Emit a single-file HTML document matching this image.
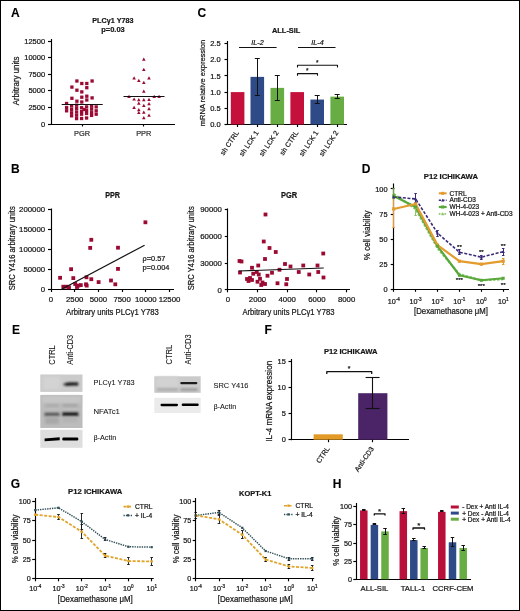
<!DOCTYPE html>
<html><head><meta charset="utf-8"><style>
html,body{margin:0;padding:0;background:#fff;}
body{width:520px;height:611px;overflow:hidden;}
svg{display:block;font-family:"Liberation Sans", sans-serif;will-change:transform;transform:translateZ(0);}
</style></head><body>
<svg width="520" height="611" viewBox="0 0 520 611">
<rect x="0" y="0" width="520" height="611" fill="#fff"/>
<text x="11.0" y="17.0" font-size="12" text-anchor="start" font-weight="bold" fill="#000" stroke="#000" stroke-width="0.1">A</text>
<text x="112.9" y="22.6" font-size="8" text-anchor="middle" font-weight="bold" fill="#161616" textLength="41.2" lengthAdjust="spacingAndGlyphs" stroke="#161616" stroke-width="0.22">PLC&#947;1 Y783</text>
<text x="113" y="31.8" font-size="8" text-anchor="middle" font-weight="bold" fill="#161616" textLength="23.4" lengthAdjust="spacingAndGlyphs" stroke="#161616" stroke-width="0.22">p=0.03</text>
<line x1="51.5" y1="39" x2="51.5" y2="124.5" stroke="#000" stroke-width="1.15" stroke-linecap="butt"/>
<line x1="50.5" y1="124.5" x2="175" y2="124.5" stroke="#000" stroke-width="1.15" stroke-linecap="butt"/>
<line x1="48" y1="124.5" x2="51" y2="124.5" stroke="#000" stroke-width="1.15" stroke-linecap="butt"/>
<text x="45.1" y="126.6" font-size="7.5" text-anchor="end" fill="#161616" stroke="#161616" stroke-width="0.22">0</text>
<line x1="48" y1="107.5" x2="51" y2="107.5" stroke="#000" stroke-width="1.15" stroke-linecap="butt"/>
<text x="45.1" y="110.0" font-size="7.5" text-anchor="end" fill="#161616" stroke="#161616" stroke-width="0.22">2500</text>
<line x1="48" y1="90.5" x2="51" y2="90.5" stroke="#000" stroke-width="1.15" stroke-linecap="butt"/>
<text x="45.1" y="93.39999999999999" font-size="7.5" text-anchor="end" fill="#161616" stroke="#161616" stroke-width="0.22">5000</text>
<line x1="48" y1="74.5" x2="51" y2="74.5" stroke="#000" stroke-width="1.15" stroke-linecap="butt"/>
<text x="45.1" y="76.79999999999998" font-size="7.5" text-anchor="end" fill="#161616" stroke="#161616" stroke-width="0.22">7500</text>
<line x1="48" y1="57.5" x2="51" y2="57.5" stroke="#000" stroke-width="1.15" stroke-linecap="butt"/>
<text x="45.1" y="60.199999999999996" font-size="7.5" text-anchor="end" fill="#161616" stroke="#161616" stroke-width="0.22">10000</text>
<line x1="48" y1="41.5" x2="51" y2="41.5" stroke="#000" stroke-width="1.15" stroke-linecap="butt"/>
<text x="45.1" y="43.6" font-size="7.5" text-anchor="end" fill="#161616" stroke="#161616" stroke-width="0.22">12500</text>
<line x1="82.5" y1="124" x2="82.5" y2="126.5" stroke="#000" stroke-width="1.15" stroke-linecap="butt"/>
<text x="82" y="136.2" font-size="7.4" text-anchor="middle" fill="#333" stroke="#333" stroke-width="0.22">PGR</text>
<line x1="143.5" y1="124" x2="143.5" y2="126.5" stroke="#000" stroke-width="1.15" stroke-linecap="butt"/>
<text x="143.8" y="136.2" font-size="7.4" text-anchor="middle" fill="#333" stroke="#333" stroke-width="0.22">PPR</text>
<text x="18.6" y="81" font-size="8.6" text-anchor="middle" fill="#161616" transform="rotate(-90 18.6 81)" textLength="48.7" lengthAdjust="spacingAndGlyphs" stroke="#161616" stroke-width="0.22">Arbitrary units</text>
<rect x="75.25" y="79.35" width="3.3" height="3.3" fill="#9a0a32"/>
<rect x="90.44999999999999" y="79.35" width="3.3" height="3.3" fill="#9a0a32"/>
<rect x="80.14999999999999" y="81.85" width="3.3" height="3.3" fill="#9a0a32"/>
<rect x="85.14999999999999" y="81.85" width="3.3" height="3.3" fill="#9a0a32"/>
<rect x="70.25" y="85.44999999999999" width="3.3" height="3.3" fill="#9a0a32"/>
<rect x="85.14999999999999" y="86.05" width="3.3" height="3.3" fill="#9a0a32"/>
<rect x="75.25" y="88.55" width="3.3" height="3.3" fill="#9a0a32"/>
<rect x="80.14999999999999" y="90.25" width="3.3" height="3.3" fill="#9a0a32"/>
<rect x="70.25" y="96.64999999999999" width="3.3" height="3.3" fill="#9a0a32"/>
<rect x="80.14999999999999" y="95.55" width="3.3" height="3.3" fill="#9a0a32"/>
<rect x="85.14999999999999" y="94.55" width="3.3" height="3.3" fill="#9a0a32"/>
<rect x="90.44999999999999" y="96.25" width="3.3" height="3.3" fill="#9a0a32"/>
<rect x="75.25" y="99.55" width="3.3" height="3.3" fill="#9a0a32"/>
<rect x="80.14999999999999" y="100.35" width="3.3" height="3.3" fill="#9a0a32"/>
<rect x="85.14999999999999" y="98.35" width="3.3" height="3.3" fill="#9a0a32"/>
<rect x="64.94999999999999" y="101.85" width="3.3" height="3.3" fill="#9a0a32"/>
<rect x="64.94999999999999" y="106.05" width="3.3" height="3.3" fill="#9a0a32"/>
<rect x="64.94999999999999" y="109.14999999999999" width="3.3" height="3.3" fill="#9a0a32"/>
<rect x="69.94999999999999" y="104.35" width="3.3" height="3.3" fill="#9a0a32"/>
<rect x="69.94999999999999" y="107.75" width="3.3" height="3.3" fill="#9a0a32"/>
<rect x="69.94999999999999" y="111.14999999999999" width="3.3" height="3.3" fill="#9a0a32"/>
<rect x="69.94999999999999" y="114.14999999999999" width="3.3" height="3.3" fill="#9a0a32"/>
<rect x="74.94999999999999" y="103.55" width="3.3" height="3.3" fill="#9a0a32"/>
<rect x="74.94999999999999" y="106.94999999999999" width="3.3" height="3.3" fill="#9a0a32"/>
<rect x="74.94999999999999" y="110.35" width="3.3" height="3.3" fill="#9a0a32"/>
<rect x="74.94999999999999" y="113.55" width="3.3" height="3.3" fill="#9a0a32"/>
<rect x="74.94999999999999" y="116.94999999999999" width="3.3" height="3.3" fill="#9a0a32"/>
<rect x="79.94999999999999" y="106.05" width="3.3" height="3.3" fill="#9a0a32"/>
<rect x="79.94999999999999" y="109.85" width="3.3" height="3.3" fill="#9a0a32"/>
<rect x="79.94999999999999" y="112.55" width="3.3" height="3.3" fill="#9a0a32"/>
<rect x="79.94999999999999" y="116.85" width="3.3" height="3.3" fill="#9a0a32"/>
<rect x="84.94999999999999" y="105.25" width="3.3" height="3.3" fill="#9a0a32"/>
<rect x="84.94999999999999" y="108.75" width="3.3" height="3.3" fill="#9a0a32"/>
<rect x="84.94999999999999" y="111.85" width="3.3" height="3.3" fill="#9a0a32"/>
<rect x="84.94999999999999" y="116.35" width="3.3" height="3.3" fill="#9a0a32"/>
<rect x="89.94999999999999" y="104.55" width="3.3" height="3.3" fill="#9a0a32"/>
<rect x="89.94999999999999" y="107.55" width="3.3" height="3.3" fill="#9a0a32"/>
<rect x="89.94999999999999" y="111.05" width="3.3" height="3.3" fill="#9a0a32"/>
<rect x="89.94999999999999" y="113.75" width="3.3" height="3.3" fill="#9a0a32"/>
<rect x="94.55" y="105.25" width="3.3" height="3.3" fill="#9a0a32"/>
<rect x="94.55" y="109.14999999999999" width="3.3" height="3.3" fill="#9a0a32"/>
<rect x="94.55" y="112.55" width="3.3" height="3.3" fill="#9a0a32"/>
<rect x="82.44999999999999" y="107.85" width="3.3" height="3.3" fill="#9a0a32"/>
<line x1="61.7" y1="104.5" x2="102.7" y2="104.5" stroke="#111" stroke-width="1.2" stroke-linecap="butt"/>
<path d="M142.00,60.70 L145.60,60.70 L143.80,57.50 Z" fill="#9a0a32"/>
<path d="M142.00,71.00 L145.60,71.00 L143.80,67.80 Z" fill="#9a0a32"/>
<path d="M132.30,79.50 L135.90,79.50 L134.10,76.30 Z" fill="#9a0a32"/>
<path d="M147.20,79.50 L150.80,79.50 L149.00,76.30 Z" fill="#9a0a32"/>
<path d="M137.00,81.90 L140.60,81.90 L138.80,78.70 Z" fill="#9a0a32"/>
<path d="M142.00,83.90 L145.60,83.90 L143.80,80.70 Z" fill="#9a0a32"/>
<path d="M142.00,92.70 L145.60,92.70 L143.80,89.50 Z" fill="#9a0a32"/>
<path d="M127.20,97.90 L130.80,97.90 L129.00,94.70 Z" fill="#9a0a32"/>
<path d="M152.40,97.90 L156.00,97.90 L154.20,94.70 Z" fill="#9a0a32"/>
<path d="M157.30,97.90 L160.90,97.90 L159.10,94.70 Z" fill="#9a0a32"/>
<path d="M132.30,100.60 L135.90,100.60 L134.10,97.40 Z" fill="#9a0a32"/>
<path d="M137.00,101.20 L140.60,101.20 L138.80,98.00 Z" fill="#9a0a32"/>
<path d="M142.00,101.20 L145.60,101.20 L143.80,98.00 Z" fill="#9a0a32"/>
<path d="M147.20,100.90 L150.80,100.90 L149.00,97.70 Z" fill="#9a0a32"/>
<path d="M137.00,104.70 L140.60,104.70 L138.80,101.50 Z" fill="#9a0a32"/>
<path d="M147.20,105.30 L150.80,105.30 L149.00,102.10 Z" fill="#9a0a32"/>
<path d="M142.00,106.90 L145.60,106.90 L143.80,103.70 Z" fill="#9a0a32"/>
<path d="M132.30,108.90 L135.90,108.90 L134.10,105.70 Z" fill="#9a0a32"/>
<path d="M147.20,110.20 L150.80,110.20 L149.00,107.00 Z" fill="#9a0a32"/>
<path d="M137.00,111.30 L140.60,111.30 L138.80,108.10 Z" fill="#9a0a32"/>
<path d="M137.00,114.10 L140.60,114.10 L138.80,110.90 Z" fill="#9a0a32"/>
<path d="M142.00,113.80 L145.60,113.80 L143.80,110.60 Z" fill="#9a0a32"/>
<path d="M147.20,116.80 L150.80,116.80 L149.00,113.60 Z" fill="#9a0a32"/>
<path d="M142.00,119.20 L145.60,119.20 L143.80,116.00 Z" fill="#9a0a32"/>
<line x1="123.5" y1="96.5" x2="164.5" y2="96.5" stroke="#111" stroke-width="1.2" stroke-linecap="butt"/>
<text x="197.4" y="17.2" font-size="12" text-anchor="start" font-weight="bold" fill="#000" stroke="#000" stroke-width="0.1">C</text>
<text x="286.2" y="33.2" font-size="8" text-anchor="middle" font-weight="bold" fill="#161616" textLength="28.4" lengthAdjust="spacingAndGlyphs" stroke="#161616" stroke-width="0.22">ALL-SIL</text>
<line x1="227.5" y1="41" x2="227.5" y2="125.0" stroke="#000" stroke-width="1.15" stroke-linecap="butt"/>
<line x1="227.0" y1="124.5" x2="347" y2="124.5" stroke="#000" stroke-width="1.15" stroke-linecap="butt"/>
<line x1="224.5" y1="124.5" x2="227.5" y2="124.5" stroke="#000" stroke-width="1.15" stroke-linecap="butt"/>
<text x="220.6" y="127.1" font-size="7.5" text-anchor="end" fill="#161616" stroke="#161616" stroke-width="0.22">0.0</text>
<line x1="224.5" y1="108.5" x2="227.5" y2="108.5" stroke="#000" stroke-width="1.15" stroke-linecap="butt"/>
<text x="220.6" y="110.89999999999999" font-size="7.5" text-anchor="end" fill="#161616" stroke="#161616" stroke-width="0.22">0.5</text>
<line x1="224.5" y1="92.5" x2="227.5" y2="92.5" stroke="#000" stroke-width="1.15" stroke-linecap="butt"/>
<text x="220.6" y="94.69999999999999" font-size="7.5" text-anchor="end" fill="#161616" stroke="#161616" stroke-width="0.22">1.0</text>
<line x1="224.5" y1="75.5" x2="227.5" y2="75.5" stroke="#000" stroke-width="1.15" stroke-linecap="butt"/>
<text x="220.6" y="78.5" font-size="7.5" text-anchor="end" fill="#161616" stroke="#161616" stroke-width="0.22">1.5</text>
<line x1="224.5" y1="59.5" x2="227.5" y2="59.5" stroke="#000" stroke-width="1.15" stroke-linecap="butt"/>
<text x="220.6" y="62.300000000000004" font-size="7.5" text-anchor="end" fill="#161616" stroke="#161616" stroke-width="0.22">2.0</text>
<line x1="224.5" y1="43.5" x2="227.5" y2="43.5" stroke="#000" stroke-width="1.15" stroke-linecap="butt"/>
<text x="220.6" y="46.1" font-size="7.5" text-anchor="end" fill="#161616" stroke="#161616" stroke-width="0.22">2.5</text>
<text x="205.4" y="83" font-size="8.1" text-anchor="middle" fill="#161616" transform="rotate(-90 205.4 83)" textLength="86.3" lengthAdjust="spacingAndGlyphs" stroke="#161616" stroke-width="0.22">mRNA relative expression</text>
<rect x="230.79999999999998" y="92.1" width="13.6" height="32.400000000000006" fill="#c4103a"/>
<rect x="250.5" y="76.872" width="13.6" height="47.628" fill="#2e4b88"/>
<line x1="257.5" y1="58.72800000000001" x2="257.5" y2="95.34" stroke="#111" stroke-width="1" stroke-linecap="butt"/>
<line x1="254.8" y1="58.5" x2="259.8" y2="58.5" stroke="#111" stroke-width="1" stroke-linecap="butt"/>
<line x1="254.8" y1="95.5" x2="259.8" y2="95.5" stroke="#111" stroke-width="1" stroke-linecap="butt"/>
<rect x="270.5" y="87.888" width="13.6" height="36.611999999999995" fill="#68ad44"/>
<line x1="277.5" y1="75.9" x2="277.5" y2="100.2" stroke="#111" stroke-width="1" stroke-linecap="butt"/>
<line x1="274.8" y1="75.5" x2="279.8" y2="75.5" stroke="#111" stroke-width="1" stroke-linecap="butt"/>
<line x1="274.8" y1="100.5" x2="279.8" y2="100.5" stroke="#111" stroke-width="1" stroke-linecap="butt"/>
<rect x="290.4" y="92.1" width="13.6" height="32.400000000000006" fill="#c4103a"/>
<rect x="310.4" y="99.55199999999999" width="13.6" height="24.948000000000008" fill="#2e4b88"/>
<line x1="317.5" y1="95.34" x2="317.5" y2="103.764" stroke="#111" stroke-width="1" stroke-linecap="butt"/>
<line x1="314.7" y1="95.5" x2="319.7" y2="95.5" stroke="#111" stroke-width="1" stroke-linecap="butt"/>
<line x1="314.7" y1="103.5" x2="319.7" y2="103.5" stroke="#111" stroke-width="1" stroke-linecap="butt"/>
<rect x="330.4" y="96.636" width="13.6" height="27.864000000000004" fill="#68ad44"/>
<line x1="337.5" y1="94.368" x2="337.5" y2="98.58" stroke="#111" stroke-width="1" stroke-linecap="butt"/>
<line x1="334.7" y1="94.5" x2="339.7" y2="94.5" stroke="#111" stroke-width="1" stroke-linecap="butt"/>
<line x1="334.7" y1="98.5" x2="339.7" y2="98.5" stroke="#111" stroke-width="1" stroke-linecap="butt"/>
<line x1="237.5" y1="124.5" x2="237.5" y2="127.0" stroke="#000" stroke-width="1.15" stroke-linecap="butt"/>
<text x="239.2" y="132.8" font-size="7.0" text-anchor="end" fill="#161616" transform="rotate(-56 239.2 132.8)" stroke="#161616" stroke-width="0.22">sh CTRL</text>
<line x1="257.5" y1="124.5" x2="257.5" y2="127.0" stroke="#000" stroke-width="1.15" stroke-linecap="butt"/>
<text x="258.90000000000003" y="132.8" font-size="7.0" text-anchor="end" fill="#161616" transform="rotate(-56 258.90000000000003 132.8)" stroke="#161616" stroke-width="0.22">sh LCK 1</text>
<line x1="277.5" y1="124.5" x2="277.5" y2="127.0" stroke="#000" stroke-width="1.15" stroke-linecap="butt"/>
<text x="278.90000000000003" y="132.8" font-size="7.0" text-anchor="end" fill="#161616" transform="rotate(-56 278.90000000000003 132.8)" stroke="#161616" stroke-width="0.22">sh LCK 2</text>
<line x1="297.5" y1="124.5" x2="297.5" y2="127.0" stroke="#000" stroke-width="1.15" stroke-linecap="butt"/>
<text x="298.8" y="132.8" font-size="7.0" text-anchor="end" fill="#161616" transform="rotate(-56 298.8 132.8)" stroke="#161616" stroke-width="0.22">sh CTRL</text>
<line x1="317.5" y1="124.5" x2="317.5" y2="127.0" stroke="#000" stroke-width="1.15" stroke-linecap="butt"/>
<text x="318.8" y="132.8" font-size="7.0" text-anchor="end" fill="#161616" transform="rotate(-56 318.8 132.8)" stroke="#161616" stroke-width="0.22">sh LCK 1</text>
<line x1="337.5" y1="124.5" x2="337.5" y2="127.0" stroke="#000" stroke-width="1.15" stroke-linecap="butt"/>
<text x="338.8" y="132.8" font-size="7.0" text-anchor="end" fill="#161616" transform="rotate(-56 338.8 132.8)" stroke="#161616" stroke-width="0.22">sh LCK 2</text>
<line x1="239" y1="47.5" x2="276.6" y2="47.5" stroke="#111" stroke-width="1.1" stroke-linecap="butt"/>
<text x="257.5" y="44.6" font-size="7.2" text-anchor="middle" font-style="italic" fill="#161616" stroke="#161616" stroke-width="0.22">IL-2</text>
<line x1="298" y1="47.5" x2="335.5" y2="47.5" stroke="#111" stroke-width="1.1" stroke-linecap="butt"/>
<text x="317.5" y="44.6" font-size="7.2" text-anchor="middle" font-style="italic" fill="#161616" stroke="#161616" stroke-width="0.22">IL-4</text>
<polyline points="297.50,67.50 297.50,65.20 337.50,65.20 337.50,67.50" fill="none" stroke="#111" stroke-width="1.1" stroke-linejoin="round" stroke-linecap="butt"/>
<text x="317.3" y="65.2" font-size="6.5" text-anchor="middle" fill="#161616" stroke="#161616" stroke-width="0.22">*</text>
<polyline points="297.50,75.80 297.50,73.60 317.50,73.60 317.50,75.80" fill="none" stroke="#111" stroke-width="1.1" stroke-linejoin="round" stroke-linecap="butt"/>
<text x="307.2" y="73.3" font-size="6.5" text-anchor="middle" fill="#161616" stroke="#161616" stroke-width="0.22">*</text>
<text x="11.0" y="172.6" font-size="12" text-anchor="start" font-weight="bold" fill="#000" stroke="#000" stroke-width="0.1">B</text>
<text x="112.6" y="197.9" font-size="8.3" text-anchor="middle" font-weight="bold" fill="#161616" textLength="14.8" lengthAdjust="spacingAndGlyphs" stroke="#161616" stroke-width="0.22">PPR</text>
<line x1="51.5" y1="208.5" x2="51.5" y2="290.0" stroke="#000" stroke-width="1.15" stroke-linecap="butt"/>
<line x1="50.5" y1="289.5" x2="174" y2="289.5" stroke="#000" stroke-width="1.15" stroke-linecap="butt"/>
<line x1="48" y1="289.5" x2="51" y2="289.5" stroke="#000" stroke-width="1.15" stroke-linecap="butt"/>
<text x="45.1" y="292.2" font-size="7.8" text-anchor="end" fill="#161616" stroke="#161616" stroke-width="0.22">0</text>
<line x1="48" y1="269.5" x2="51" y2="269.5" stroke="#000" stroke-width="1.15" stroke-linecap="butt"/>
<text x="45.1" y="272.15" font-size="7.8" text-anchor="end" fill="#161616" stroke="#161616" stroke-width="0.22">50000</text>
<line x1="48" y1="249.5" x2="51" y2="249.5" stroke="#000" stroke-width="1.15" stroke-linecap="butt"/>
<text x="45.1" y="252.1" font-size="7.8" text-anchor="end" fill="#161616" stroke="#161616" stroke-width="0.22">100000</text>
<line x1="48" y1="229.5" x2="51" y2="229.5" stroke="#000" stroke-width="1.15" stroke-linecap="butt"/>
<text x="45.1" y="232.04999999999998" font-size="7.8" text-anchor="end" fill="#161616" stroke="#161616" stroke-width="0.22">150000</text>
<line x1="48" y1="209.5" x2="51" y2="209.5" stroke="#000" stroke-width="1.15" stroke-linecap="butt"/>
<text x="45.1" y="212.0" font-size="7.8" text-anchor="end" fill="#161616" stroke="#161616" stroke-width="0.22">200000</text>
<line x1="51.5" y1="289.5" x2="51.5" y2="292.0" stroke="#000" stroke-width="1.15" stroke-linecap="butt"/>
<text x="51.0" y="302.4" font-size="7.8" text-anchor="middle" fill="#161616" stroke="#161616" stroke-width="0.22">0</text>
<line x1="74.5" y1="289.5" x2="74.5" y2="292.0" stroke="#000" stroke-width="1.15" stroke-linecap="butt"/>
<text x="74.7" y="302.4" font-size="7.8" text-anchor="middle" fill="#161616" stroke="#161616" stroke-width="0.22">2500</text>
<line x1="98.5" y1="289.5" x2="98.5" y2="292.0" stroke="#000" stroke-width="1.15" stroke-linecap="butt"/>
<text x="98.4" y="302.4" font-size="7.8" text-anchor="middle" fill="#161616" stroke="#161616" stroke-width="0.22">5000</text>
<line x1="122.5" y1="289.5" x2="122.5" y2="292.0" stroke="#000" stroke-width="1.15" stroke-linecap="butt"/>
<text x="122.1" y="302.4" font-size="7.8" text-anchor="middle" fill="#161616" stroke="#161616" stroke-width="0.22">7500</text>
<line x1="145.5" y1="289.5" x2="145.5" y2="292.0" stroke="#000" stroke-width="1.15" stroke-linecap="butt"/>
<text x="145.8" y="302.4" font-size="7.8" text-anchor="middle" fill="#161616" stroke="#161616" stroke-width="0.22">10000</text>
<line x1="169.5" y1="289.5" x2="169.5" y2="292.0" stroke="#000" stroke-width="1.15" stroke-linecap="butt"/>
<text x="169.5" y="302.4" font-size="7.8" text-anchor="middle" fill="#161616" stroke="#161616" stroke-width="0.22">12500</text>
<text x="112.4" y="314.8" font-size="8.6" text-anchor="middle" fill="#161616" textLength="92.8" lengthAdjust="spacingAndGlyphs" stroke="#161616" stroke-width="0.22">Arbitrary units PLC&#947;1 Y783</text>
<text x="14.6" y="248.3" font-size="8.6" text-anchor="middle" fill="#161616" transform="rotate(-90 14.6 248.3)" textLength="84" lengthAdjust="spacingAndGlyphs" stroke="#161616" stroke-width="0.22">SRC Y416 arbitrary units</text>
<rect x="143.5" y="220.4" width="3.8" height="3.8" fill="#9a0a32"/>
<rect x="89.39999999999999" y="237.9" width="3.8" height="3.8" fill="#9a0a32"/>
<rect x="88.3" y="246.0" width="3.8" height="3.8" fill="#9a0a32"/>
<rect x="116.1" y="245.79999999999998" width="3.8" height="3.8" fill="#9a0a32"/>
<rect x="69.19999999999999" y="267.3" width="3.8" height="3.8" fill="#9a0a32"/>
<rect x="116.1" y="267.0" width="3.8" height="3.8" fill="#9a0a32"/>
<rect x="58.2" y="275.90000000000003" width="3.8" height="3.8" fill="#9a0a32"/>
<rect x="71.39999999999999" y="276.20000000000005" width="3.8" height="3.8" fill="#9a0a32"/>
<rect x="84.6" y="275.40000000000003" width="3.8" height="3.8" fill="#9a0a32"/>
<rect x="89.39999999999999" y="277.3" width="3.8" height="3.8" fill="#9a0a32"/>
<rect x="96.69999999999999" y="280.20000000000005" width="3.8" height="3.8" fill="#9a0a32"/>
<rect x="109.1" y="278.6" width="3.8" height="3.8" fill="#9a0a32"/>
<rect x="113.39999999999999" y="282.40000000000003" width="3.8" height="3.8" fill="#9a0a32"/>
<rect x="73.3" y="282.1" width="3.8" height="3.8" fill="#9a0a32"/>
<rect x="76.5" y="283.70000000000005" width="3.8" height="3.8" fill="#9a0a32"/>
<rect x="78.89999999999999" y="283.20000000000005" width="3.8" height="3.8" fill="#9a0a32"/>
<rect x="84.1" y="282.40000000000003" width="3.8" height="3.8" fill="#9a0a32"/>
<rect x="84.8" y="283.70000000000005" width="3.8" height="3.8" fill="#9a0a32"/>
<rect x="61.4" y="284.8" width="3.8" height="3.8" fill="#9a0a32"/>
<rect x="64.6" y="284.8" width="3.8" height="3.8" fill="#9a0a32"/>
<rect x="67.1" y="285.40000000000003" width="3.8" height="3.8" fill="#9a0a32"/>
<rect x="75.1" y="285.1" width="3.8" height="3.8" fill="#9a0a32"/>
<line x1="60.6" y1="289.7" x2="144.6" y2="245.2" stroke="#111" stroke-width="1.2" stroke-linecap="butt"/>
<text x="142.5" y="261" font-size="7.4" text-anchor="start" fill="#161616" stroke="#161616" stroke-width="0.22">&#961;=0.57</text>
<text x="142.5" y="270" font-size="7.4" text-anchor="start" fill="#161616" stroke="#161616" stroke-width="0.22">p=0.004</text>
<text x="289.0" y="197.9" font-size="8.3" text-anchor="middle" font-weight="bold" fill="#161616" textLength="16.2" lengthAdjust="spacingAndGlyphs" stroke="#161616" stroke-width="0.22">PGR</text>
<line x1="227.5" y1="208.5" x2="227.5" y2="290.3" stroke="#000" stroke-width="1.15" stroke-linecap="butt"/>
<line x1="227.3" y1="289.5" x2="350" y2="289.5" stroke="#000" stroke-width="1.15" stroke-linecap="butt"/>
<line x1="224.8" y1="289.5" x2="227.8" y2="289.5" stroke="#000" stroke-width="1.15" stroke-linecap="butt"/>
<text x="221.9" y="292.5" font-size="7.8" text-anchor="end" fill="#161616" stroke="#161616" stroke-width="0.22">0</text>
<line x1="224.8" y1="263.5" x2="227.8" y2="263.5" stroke="#000" stroke-width="1.15" stroke-linecap="butt"/>
<text x="221.9" y="265.7" font-size="7.8" text-anchor="end" fill="#161616" stroke="#161616" stroke-width="0.22">30000</text>
<line x1="224.8" y1="236.5" x2="227.8" y2="236.5" stroke="#000" stroke-width="1.15" stroke-linecap="butt"/>
<text x="221.9" y="238.9" font-size="7.8" text-anchor="end" fill="#161616" stroke="#161616" stroke-width="0.22">60000</text>
<line x1="224.8" y1="209.5" x2="227.8" y2="209.5" stroke="#000" stroke-width="1.15" stroke-linecap="butt"/>
<text x="221.9" y="212.1" font-size="7.8" text-anchor="end" fill="#161616" stroke="#161616" stroke-width="0.22">90000</text>
<line x1="227.5" y1="289.8" x2="227.5" y2="292.3" stroke="#000" stroke-width="1.15" stroke-linecap="butt"/>
<text x="227.8" y="302.4" font-size="7.8" text-anchor="middle" fill="#161616" stroke="#161616" stroke-width="0.22">0</text>
<line x1="257.5" y1="289.8" x2="257.5" y2="292.3" stroke="#000" stroke-width="1.15" stroke-linecap="butt"/>
<text x="257.5" y="302.4" font-size="7.8" text-anchor="middle" fill="#161616" stroke="#161616" stroke-width="0.22">2000</text>
<line x1="287.5" y1="289.8" x2="287.5" y2="292.3" stroke="#000" stroke-width="1.15" stroke-linecap="butt"/>
<text x="287.2" y="302.4" font-size="7.8" text-anchor="middle" fill="#161616" stroke="#161616" stroke-width="0.22">4000</text>
<line x1="316.5" y1="289.8" x2="316.5" y2="292.3" stroke="#000" stroke-width="1.15" stroke-linecap="butt"/>
<text x="316.9" y="302.4" font-size="7.8" text-anchor="middle" fill="#161616" stroke="#161616" stroke-width="0.22">6000</text>
<line x1="346.5" y1="289.8" x2="346.5" y2="292.3" stroke="#000" stroke-width="1.15" stroke-linecap="butt"/>
<text x="346.6" y="302.4" font-size="7.8" text-anchor="middle" fill="#161616" stroke="#161616" stroke-width="0.22">8000</text>
<text x="288.4" y="314.8" font-size="8.6" text-anchor="middle" fill="#161616" textLength="92" lengthAdjust="spacingAndGlyphs" stroke="#161616" stroke-width="0.22">Arbitrary units PLC&#947;1 Y783</text>
<text x="194.4" y="248.3" font-size="8.6" text-anchor="middle" fill="#161616" transform="rotate(-90 194.4 248.3)" textLength="84" lengthAdjust="spacingAndGlyphs" stroke="#161616" stroke-width="0.22">SRC Y416 arbitrary units</text>
<rect x="263.6" y="212.6" width="3.8" height="3.8" fill="#9a0a32"/>
<rect x="261.85" y="239.6" width="3.8" height="3.8" fill="#9a0a32"/>
<rect x="267.6" y="246.1" width="3.8" height="3.8" fill="#9a0a32"/>
<rect x="273.85" y="250.1" width="3.8" height="3.8" fill="#9a0a32"/>
<rect x="321.35" y="251.6" width="3.8" height="3.8" fill="#9a0a32"/>
<rect x="263.1" y="257.1" width="3.8" height="3.8" fill="#9a0a32"/>
<rect x="237.6" y="259.1" width="3.8" height="3.8" fill="#9a0a32"/>
<rect x="239.6" y="259.6" width="3.8" height="3.8" fill="#9a0a32"/>
<rect x="283.1" y="262.1" width="3.8" height="3.8" fill="#9a0a32"/>
<rect x="256.35" y="263.6" width="3.8" height="3.8" fill="#9a0a32"/>
<rect x="250.1" y="265.85" width="3.8" height="3.8" fill="#9a0a32"/>
<rect x="288.6" y="264.6" width="3.8" height="3.8" fill="#9a0a32"/>
<rect x="301.35" y="263.6" width="3.8" height="3.8" fill="#9a0a32"/>
<rect x="315.6" y="263.6" width="3.8" height="3.8" fill="#9a0a32"/>
<rect x="277.6" y="267.85" width="3.8" height="3.8" fill="#9a0a32"/>
<rect x="238.1" y="270.6" width="3.8" height="3.8" fill="#9a0a32"/>
<rect x="254.85" y="270.1" width="3.8" height="3.8" fill="#9a0a32"/>
<rect x="270.1" y="270.85" width="3.8" height="3.8" fill="#9a0a32"/>
<rect x="296.85" y="270.1" width="3.8" height="3.8" fill="#9a0a32"/>
<rect x="316.35" y="270.1" width="3.8" height="3.8" fill="#9a0a32"/>
<rect x="251.35" y="271.85" width="3.8" height="3.8" fill="#9a0a32"/>
<rect x="256.85" y="272.6" width="3.8" height="3.8" fill="#9a0a32"/>
<rect x="307.35" y="272.6" width="3.8" height="3.8" fill="#9a0a32"/>
<rect x="265.6" y="273.85" width="3.8" height="3.8" fill="#9a0a32"/>
<rect x="245.1" y="277.1" width="3.8" height="3.8" fill="#9a0a32"/>
<rect x="248.1" y="276.1" width="3.8" height="3.8" fill="#9a0a32"/>
<rect x="250.1" y="278.1" width="3.8" height="3.8" fill="#9a0a32"/>
<rect x="246.6" y="279.1" width="3.8" height="3.8" fill="#9a0a32"/>
<rect x="258.1" y="276.85" width="3.8" height="3.8" fill="#9a0a32"/>
<rect x="285.1" y="277.1" width="3.8" height="3.8" fill="#9a0a32"/>
<rect x="321.6" y="275.6" width="3.8" height="3.8" fill="#9a0a32"/>
<rect x="255.6" y="279.85" width="3.8" height="3.8" fill="#9a0a32"/>
<rect x="259.35" y="283.1" width="3.8" height="3.8" fill="#9a0a32"/>
<rect x="263.1" y="282.1" width="3.8" height="3.8" fill="#9a0a32"/>
<rect x="275.6" y="281.35" width="3.8" height="3.8" fill="#9a0a32"/>
<rect x="284.35" y="282.35" width="3.8" height="3.8" fill="#9a0a32"/>
<rect x="260.6" y="280.6" width="3.8" height="3.8" fill="#9a0a32"/>
<line x1="238.75" y1="271" x2="323.75" y2="268" stroke="#111" stroke-width="1.1" stroke-linecap="butt"/>
<text x="361.8" y="172.6" font-size="12" text-anchor="start" font-weight="bold" fill="#000" stroke="#000" stroke-width="0.1">D</text>
<text x="450.9" y="178.6" font-size="8" text-anchor="middle" font-weight="bold" fill="#161616" textLength="54.2" lengthAdjust="spacingAndGlyphs" stroke="#161616" stroke-width="0.22">P12 ICHIKAWA</text>
<line x1="393.5" y1="183.5" x2="393.5" y2="289.8" stroke="#000" stroke-width="1.15" stroke-linecap="butt"/>
<line x1="393.2" y1="289.5" x2="509" y2="289.5" stroke="#000" stroke-width="1.15" stroke-linecap="butt"/>
<line x1="390.7" y1="289.5" x2="393.7" y2="289.5" stroke="#000" stroke-width="1.15" stroke-linecap="butt"/>
<text x="387.6" y="291.90000000000003" font-size="7.4" text-anchor="end" fill="#161616" stroke="#161616" stroke-width="0.22">0</text>
<line x1="390.7" y1="264.5" x2="393.7" y2="264.5" stroke="#000" stroke-width="1.15" stroke-linecap="butt"/>
<text x="387.6" y="266.8" font-size="7.4" text-anchor="end" fill="#161616" stroke="#161616" stroke-width="0.22">25</text>
<line x1="390.7" y1="239.5" x2="393.7" y2="239.5" stroke="#000" stroke-width="1.15" stroke-linecap="butt"/>
<text x="387.6" y="241.70000000000002" font-size="7.4" text-anchor="end" fill="#161616" stroke="#161616" stroke-width="0.22">50</text>
<line x1="390.7" y1="214.5" x2="393.7" y2="214.5" stroke="#000" stroke-width="1.15" stroke-linecap="butt"/>
<text x="387.6" y="216.6" font-size="7.4" text-anchor="end" fill="#161616" stroke="#161616" stroke-width="0.22">75</text>
<line x1="390.7" y1="188.5" x2="393.7" y2="188.5" stroke="#000" stroke-width="1.15" stroke-linecap="butt"/>
<text x="387.6" y="191.5" font-size="7.4" text-anchor="end" fill="#161616" stroke="#161616" stroke-width="0.22">100</text>
<line x1="393.5" y1="289.3" x2="393.5" y2="291.8" stroke="#000" stroke-width="1.15" stroke-linecap="butt"/>
<text x="393.7" y="303.8" font-size="7.2" text-anchor="middle" fill="#161616" stroke="#161616" stroke-width="0.22">10<tspan font-size="4.6" dy="-3">-4</tspan></text>
<line x1="415.5" y1="289.3" x2="415.5" y2="291.8" stroke="#000" stroke-width="1.15" stroke-linecap="butt"/>
<text x="415.59999999999997" y="303.8" font-size="7.2" text-anchor="middle" fill="#161616" stroke="#161616" stroke-width="0.22">10<tspan font-size="4.6" dy="-3">-3</tspan></text>
<line x1="437.5" y1="289.3" x2="437.5" y2="291.8" stroke="#000" stroke-width="1.15" stroke-linecap="butt"/>
<text x="437.5" y="303.8" font-size="7.2" text-anchor="middle" fill="#161616" stroke="#161616" stroke-width="0.22">10<tspan font-size="4.6" dy="-3">-2</tspan></text>
<line x1="459.5" y1="289.3" x2="459.5" y2="291.8" stroke="#000" stroke-width="1.15" stroke-linecap="butt"/>
<text x="459.4" y="303.8" font-size="7.2" text-anchor="middle" fill="#161616" stroke="#161616" stroke-width="0.22">10<tspan font-size="4.6" dy="-3">-1</tspan></text>
<line x1="481.5" y1="289.3" x2="481.5" y2="291.8" stroke="#000" stroke-width="1.15" stroke-linecap="butt"/>
<text x="481.29999999999995" y="303.8" font-size="7.2" text-anchor="middle" fill="#161616" stroke="#161616" stroke-width="0.22">10<tspan font-size="4.6" dy="-3">0</tspan></text>
<line x1="503.5" y1="289.3" x2="503.5" y2="291.8" stroke="#000" stroke-width="1.15" stroke-linecap="butt"/>
<text x="503.2" y="303.8" font-size="7.2" text-anchor="middle" fill="#161616" stroke="#161616" stroke-width="0.22">10<tspan font-size="4.6" dy="-3">1</tspan></text>
<text x="451" y="314" font-size="8.3" text-anchor="middle" fill="#161616" textLength="73.8" lengthAdjust="spacingAndGlyphs" stroke="#161616" stroke-width="0.22">[Dexamethasone &#956;M]</text>
<text x="369.8" y="235.3" font-size="8.6" text-anchor="middle" fill="#161616" transform="rotate(-90 369.8 235.3)" textLength="49.7" lengthAdjust="spacingAndGlyphs" stroke="#161616" stroke-width="0.22">% cell viability</text>
<polyline points="393.70,193.92 415.60,208.98 437.50,248.14 459.40,274.24 481.30,280.26 503.20,279.26" fill="none" stroke="#8dc56c" stroke-width="2.2" stroke-dasharray="2.5,1.5" stroke-linejoin="round" stroke-linecap="butt"/>
<polyline points="393.70,195.93 415.60,206.97 437.50,246.13 459.40,275.24 481.30,280.26 503.20,278.26" fill="none" stroke="#58a83a" stroke-width="2.2" stroke-linejoin="round" stroke-linecap="butt"/>
<polyline points="393.70,208.98 415.60,203.96 437.50,245.12 459.40,261.19 481.30,264.20 503.20,261.19" fill="none" stroke="#e39b2e" stroke-width="2.2" stroke-linejoin="round" stroke-linecap="butt"/>
<polyline points="393.70,196.93 415.60,198.94 437.50,233.08 459.40,252.15 481.30,257.17 503.20,251.65" fill="none" stroke="#3b2a78" stroke-width="1.6" stroke-dasharray="3,1.6" stroke-linejoin="round" stroke-linecap="butt"/>
<line x1="393.5" y1="196.93200000000002" x2="393.5" y2="227.05200000000002" stroke="#e39b2e" stroke-width="1.2" stroke-linecap="butt"/>
<line x1="392.45" y1="196.5" x2="394.95" y2="196.5" stroke="#e39b2e" stroke-width="1.2" stroke-linecap="butt"/>
<line x1="392.45" y1="227.5" x2="394.95" y2="227.5" stroke="#e39b2e" stroke-width="1.2" stroke-linecap="butt"/>
<line x1="393.5" y1="188.9" x2="393.5" y2="198.94" stroke="#6a9a4a" stroke-width="1.2" stroke-linecap="butt"/>
<line x1="392.45" y1="188.5" x2="394.95" y2="188.5" stroke="#6a9a4a" stroke-width="1.2" stroke-linecap="butt"/>
<line x1="392.45" y1="198.5" x2="394.95" y2="198.5" stroke="#6a9a4a" stroke-width="1.2" stroke-linecap="butt"/>
<line x1="415.5" y1="193.92000000000002" x2="415.5" y2="202.95600000000002" stroke="#3b2a78" stroke-width="1" stroke-linecap="butt"/>
<line x1="414.34999999999997" y1="193.5" x2="416.84999999999997" y2="193.5" stroke="#3b2a78" stroke-width="1" stroke-linecap="butt"/>
<line x1="414.34999999999997" y1="202.5" x2="416.84999999999997" y2="202.5" stroke="#3b2a78" stroke-width="1" stroke-linecap="butt"/>
<line x1="415.5" y1="208.98000000000002" x2="415.5" y2="215.00400000000002" stroke="#8dc56c" stroke-width="1" stroke-linecap="butt"/>
<line x1="414.34999999999997" y1="208.5" x2="416.84999999999997" y2="208.5" stroke="#8dc56c" stroke-width="1" stroke-linecap="butt"/>
<line x1="414.34999999999997" y1="215.5" x2="416.84999999999997" y2="215.5" stroke="#8dc56c" stroke-width="1" stroke-linecap="butt"/>
<line x1="437.5" y1="230.06400000000002" x2="437.5" y2="236.08800000000002" stroke="#3b2a78" stroke-width="1" stroke-linecap="butt"/>
<line x1="436.25" y1="230.5" x2="438.75" y2="230.5" stroke="#3b2a78" stroke-width="1" stroke-linecap="butt"/>
<line x1="436.25" y1="236.5" x2="438.75" y2="236.5" stroke="#3b2a78" stroke-width="1" stroke-linecap="butt"/>
<line x1="481.5" y1="255.16400000000002" x2="481.5" y2="259.18" stroke="#3b2a78" stroke-width="1" stroke-linecap="butt"/>
<line x1="480.04999999999995" y1="255.5" x2="482.54999999999995" y2="255.5" stroke="#3b2a78" stroke-width="1" stroke-linecap="butt"/>
<line x1="480.04999999999995" y1="259.5" x2="482.54999999999995" y2="259.5" stroke="#3b2a78" stroke-width="1" stroke-linecap="butt"/>
<line x1="503.5" y1="248.13600000000002" x2="503.5" y2="255.16400000000002" stroke="#3b2a78" stroke-width="1" stroke-linecap="butt"/>
<line x1="501.95" y1="248.5" x2="504.45" y2="248.5" stroke="#3b2a78" stroke-width="1" stroke-linecap="butt"/>
<line x1="501.95" y1="255.5" x2="504.45" y2="255.5" stroke="#3b2a78" stroke-width="1" stroke-linecap="butt"/>
<line x1="503.5" y1="258.176" x2="503.5" y2="264.2" stroke="#e39b2e" stroke-width="1" stroke-linecap="butt"/>
<line x1="501.95" y1="258.5" x2="504.45" y2="258.5" stroke="#e39b2e" stroke-width="1" stroke-linecap="butt"/>
<line x1="501.95" y1="264.5" x2="504.45" y2="264.5" stroke="#e39b2e" stroke-width="1" stroke-linecap="butt"/>
<line x1="459.5" y1="249.14000000000001" x2="459.5" y2="254.16000000000003" stroke="#3b2a78" stroke-width="1" stroke-linecap="butt"/>
<line x1="458.15" y1="249.5" x2="460.65" y2="249.5" stroke="#3b2a78" stroke-width="1" stroke-linecap="butt"/>
<line x1="458.15" y1="254.5" x2="460.65" y2="254.5" stroke="#3b2a78" stroke-width="1" stroke-linecap="butt"/>
<rect x="392.10" y="207.38" width="3.2" height="3.2" fill="#e39b2e"/>
<rect x="414.00" y="202.36" width="3.2" height="3.2" fill="#e39b2e"/>
<rect x="435.90" y="243.52" width="3.2" height="3.2" fill="#e39b2e"/>
<rect x="457.80" y="259.59" width="3.2" height="3.2" fill="#e39b2e"/>
<rect x="479.70" y="262.60" width="3.2" height="3.2" fill="#e39b2e"/>
<rect x="501.60" y="259.59" width="3.2" height="3.2" fill="#e39b2e"/>
<rect x="392.20" y="194.43" width="3" height="3" fill="#58a83a"/>
<rect x="414.10" y="205.47" width="3" height="3" fill="#58a83a"/>
<rect x="436.00" y="244.63" width="3" height="3" fill="#58a83a"/>
<rect x="457.90" y="273.74" width="3" height="3" fill="#58a83a"/>
<rect x="479.80" y="278.76" width="3" height="3" fill="#58a83a"/>
<rect x="501.70" y="276.76" width="3" height="3" fill="#58a83a"/>
<path d="M392.00,198.33 L395.40,198.33 L393.70,195.33 Z" fill="#3b2a78"/>
<path d="M413.90,200.34 L417.30,200.34 L415.60,197.34 Z" fill="#3b2a78"/>
<path d="M435.80,234.48 L439.20,234.48 L437.50,231.48 Z" fill="#3b2a78"/>
<path d="M457.70,253.55 L461.10,253.55 L459.40,250.55 Z" fill="#3b2a78"/>
<path d="M479.60,258.57 L483.00,258.57 L481.30,255.57 Z" fill="#3b2a78"/>
<path d="M501.50,253.05 L504.90,253.05 L503.20,250.05 Z" fill="#3b2a78"/>
<text x="459.4" y="249.0" font-size="6.2" text-anchor="middle" fill="#161616" stroke="#161616" stroke-width="0.22">**</text>
<text x="481.29999999999995" y="254.4" font-size="6.2" text-anchor="middle" fill="#161616" stroke="#161616" stroke-width="0.22">**</text>
<text x="503.2" y="247.7" font-size="6.2" text-anchor="middle" fill="#161616" stroke="#161616" stroke-width="0.22">**</text>
<text x="459.4" y="282.2" font-size="6.2" text-anchor="middle" fill="#161616" stroke="#161616" stroke-width="0.22">***</text>
<text x="481.29999999999995" y="288.0" font-size="6.2" text-anchor="middle" fill="#161616" stroke="#161616" stroke-width="0.22">***</text>
<text x="503.2" y="287.0" font-size="6.2" text-anchor="middle" fill="#161616" stroke="#161616" stroke-width="0.22">**</text>
<line x1="438.8" y1="193.3" x2="446.6" y2="193.3" stroke="#e39b2e" stroke-width="2.0" stroke-linecap="butt"/>
<rect x="441.2" y="191.8" width="3" height="3" fill="#e39b2e"/>
<text x="449.6" y="195.60000000000002" font-size="6.5" text-anchor="start" fill="#161616" stroke="#161616" stroke-width="0.22">CTRL</text>
<line x1="438.8" y1="200.15" x2="446.6" y2="200.15" stroke="#3b2a78" stroke-width="1.5" stroke-dasharray="2.2,1.3" stroke-linecap="butt"/>
<path d="M441.10,201.45 L444.30,201.45 L442.70,198.65 Z" fill="#3b2a78"/>
<text x="449.6" y="202.45000000000002" font-size="6.5" text-anchor="start" fill="#161616" stroke="#161616" stroke-width="0.22">Anti-CD3</text>
<line x1="438.8" y1="207.0" x2="446.6" y2="207.0" stroke="#58a83a" stroke-width="2.2" stroke-linecap="butt"/>
<rect x="441.2" y="205.5" width="3" height="3" fill="#58a83a"/>
<text x="449.6" y="209.3" font-size="6.5" text-anchor="start" fill="#161616" stroke="#161616" stroke-width="0.22">WH-4-023</text>
<line x1="438.8" y1="213.85000000000002" x2="446.6" y2="213.85000000000002" stroke="#8dc56c" stroke-width="1.6" stroke-dasharray="1.6,1.2" stroke-linecap="butt"/>
<path d="M441.10,215.15 L444.30,215.15 L442.70,212.35 Z" fill="#8dc56c"/>
<text x="449.6" y="216.15000000000003" font-size="6.5" text-anchor="start" fill="#161616" stroke="#161616" stroke-width="0.22">WH-4-023 + Anti-CD3</text>
<text x="12.0" y="334.3" font-size="12" text-anchor="start" font-weight="bold" fill="#000" stroke="#000" stroke-width="0.1">E</text>
<text x="55.4" y="364.8" font-size="8.2" text-anchor="start" fill="#161616" transform="rotate(-90 55.4 364.8)" stroke="#161616" stroke-width="0.08" textLength="19.6" lengthAdjust="spacingAndGlyphs">CTRL</text>
<text x="73.5" y="364.8" font-size="8.2" text-anchor="start" fill="#161616" transform="rotate(-90 73.5 364.8)" stroke="#161616" stroke-width="0.08" textLength="30" lengthAdjust="spacingAndGlyphs">Anti-CD3</text>
<text x="172.2" y="364.6" font-size="8.2" text-anchor="start" fill="#161616" transform="rotate(-90 172.2 364.6)" stroke="#161616" stroke-width="0.08" textLength="20" lengthAdjust="spacingAndGlyphs">CTRL</text>
<text x="190.7" y="364.6" font-size="8.2" text-anchor="start" fill="#161616" transform="rotate(-90 190.7 364.6)" stroke="#161616" stroke-width="0.08" textLength="30.4" lengthAdjust="spacingAndGlyphs">Anti-CD3</text>
<defs><filter id="bl" x="-20%" y="-50%" width="140%" height="200%"><feGaussianBlur stdDeviation="0.9"/></filter><filter id="bl2" x="-20%" y="-50%" width="140%" height="200%"><feGaussianBlur stdDeviation="1.5"/></filter><filter id="bl3" x="-20%" y="-80%" width="140%" height="260%"><feGaussianBlur stdDeviation="0.55"/></filter></defs>
<rect x="40.3" y="374.5" width="42.2" height="17.4" fill="#cbcbcb"/>
<rect x="43" y="376.5" width="17" height="13" fill="#d3d3d3" filter="url(#bl2)"/>
<path d="M63,384.2 Q66,382 72,382.2 L78,382.4 Q79,384 78,385.6 L70,385.8 Q65,386.5 63,384.2 Z" fill="#1a1a1a" filter="url(#bl)"/>
<rect x="40.3" y="395" width="42.2" height="33" fill="#bcbcbc"/>
<rect x="42" y="396" width="39" height="7" fill="#c6c6c6" filter="url(#bl2)"/>
<rect x="45" y="404.4" width="14" height="2.2" fill="#a2a2a2" filter="url(#bl2)"/>
<rect x="62.5" y="404.4" width="15.5" height="2.2" fill="#9a9a9a" filter="url(#bl2)"/>
<rect x="44.5" y="412.6" width="15" height="3.6" fill="#5a5a5a" filter="url(#bl)"/>
<rect x="62.3" y="412.3" width="16" height="3.8" fill="#1a1a1a" filter="url(#bl)"/>
<rect x="45" y="417" width="14" height="7" fill="#a8a8a8" filter="url(#bl2)"/>
<rect x="62.5" y="417" width="15" height="5" fill="#b2b2b2" filter="url(#bl2)"/>
<rect x="40.3" y="429.8" width="42.2" height="18" fill="#dedede"/>
<path d="M44.6,441.2 L44.6,438.6 L59.7,437.3 L59.7,440.2 Z" fill="#000" filter="url(#bl3)"/>
<rect x="62.3" y="437.5" width="16" height="3" rx="1.2" fill="#000" filter="url(#bl3)"/>
<text x="93.6" y="385.3" font-size="8" text-anchor="start" fill="#161616" stroke="#161616" stroke-width="0.08" textLength="41" lengthAdjust="spacingAndGlyphs">PLC&#947;1 Y783</text>
<text x="93.4" y="414.3" font-size="8" text-anchor="start" fill="#161616" stroke="#161616" stroke-width="0.08" textLength="26.5" lengthAdjust="spacingAndGlyphs">NFATc1</text>
<text x="93.4" y="439.6" font-size="8" text-anchor="start" fill="#161616" stroke="#161616" stroke-width="0.08" textLength="22.8" lengthAdjust="spacingAndGlyphs">&#946;-Actin</text>
<rect x="154.3" y="376.3" width="46.4" height="16.5" fill="#cacaca"/>
<rect x="156" y="377" width="22" height="10" fill="#d2d2d2" filter="url(#bl2)"/>
<rect x="180.3" y="382.1" width="17" height="2.2" rx="1" fill="#1c1c1c" filter="url(#bl3)"/>
<rect x="157" y="388.3" width="21" height="2.6" fill="#acacac" filter="url(#bl)"/>
<rect x="180.5" y="388.3" width="17" height="2.6" fill="#9a9a9a" filter="url(#bl)"/>
<rect x="154.3" y="397.8" width="46.4" height="15.2" fill="#ebebeb"/>
<rect x="160.5" y="403.7" width="17.5" height="2.5" rx="1.1" fill="#050505" filter="url(#bl3)"/>
<rect x="181.7" y="403.6" width="17" height="2.5" rx="1.1" fill="#050505" filter="url(#bl3)"/>
<text x="213.5" y="387.6" font-size="8" text-anchor="start" fill="#161616" stroke="#161616" stroke-width="0.08" textLength="35" lengthAdjust="spacingAndGlyphs">SRC Y416</text>
<text x="213.4" y="408.5" font-size="8" text-anchor="start" fill="#161616" stroke="#161616" stroke-width="0.08" textLength="22.8" lengthAdjust="spacingAndGlyphs">&#946;-Actin</text>
<text x="264.6" y="334.3" font-size="12" text-anchor="start" font-weight="bold" fill="#000" stroke="#000" stroke-width="0.1">F</text>
<text x="350.7" y="353.9" font-size="8" text-anchor="middle" font-weight="bold" fill="#161616" textLength="53.6" lengthAdjust="spacingAndGlyphs" stroke="#161616" stroke-width="0.22">P12 ICHIKAWA</text>
<line x1="291.5" y1="359" x2="291.5" y2="440.2" stroke="#000" stroke-width="1.15" stroke-linecap="butt"/>
<line x1="291.0" y1="439.5" x2="409" y2="439.5" stroke="#000" stroke-width="1.15" stroke-linecap="butt"/>
<line x1="288.5" y1="439.5" x2="291.5" y2="439.5" stroke="#000" stroke-width="1.15" stroke-linecap="butt"/>
<text x="285.8" y="442.3" font-size="7.4" text-anchor="end" fill="#161616" stroke="#161616" stroke-width="0.22">0</text>
<line x1="288.5" y1="413.5" x2="291.5" y2="413.5" stroke="#000" stroke-width="1.15" stroke-linecap="butt"/>
<text x="285.8" y="416.1" font-size="7.4" text-anchor="end" fill="#161616" stroke="#161616" stroke-width="0.22">5</text>
<line x1="288.5" y1="387.5" x2="291.5" y2="387.5" stroke="#000" stroke-width="1.15" stroke-linecap="butt"/>
<text x="285.8" y="389.90000000000003" font-size="7.4" text-anchor="end" fill="#161616" stroke="#161616" stroke-width="0.22">10</text>
<line x1="288.5" y1="361.5" x2="291.5" y2="361.5" stroke="#000" stroke-width="1.15" stroke-linecap="butt"/>
<text x="285.8" y="363.70000000000005" font-size="7.4" text-anchor="end" fill="#161616" stroke="#161616" stroke-width="0.22">15</text>
<text x="271.6" y="401.3" font-size="8.6" text-anchor="middle" fill="#161616" transform="rotate(-90 271.6 401.3)" textLength="80.9" lengthAdjust="spacingAndGlyphs" stroke="#161616" stroke-width="0.22">IL-4 mRNA expression</text>
<rect x="313.6" y="434.3" width="29.2" height="5.399999999999977" fill="#e39b27"/>
<rect x="358.2" y="393.2" width="29.2" height="46.5" fill="#4b2468"/>
<line x1="372.5" y1="377" x2="372.5" y2="408.3" stroke="#111" stroke-width="1.1" stroke-linecap="butt"/>
<line x1="365.6" y1="377.5" x2="379.6" y2="377.5" stroke="#111" stroke-width="1.1" stroke-linecap="butt"/>
<line x1="365.6" y1="408.5" x2="379.6" y2="408.5" stroke="#111" stroke-width="1.1" stroke-linecap="butt"/>
<polyline points="326.80,373.90 326.80,371.70 371.70,371.70 371.70,373.90" fill="none" stroke="#111" stroke-width="1.3" stroke-linejoin="round" stroke-linecap="butt"/>
<text x="349" y="370.5" font-size="7" text-anchor="middle" fill="#161616" stroke="#161616" stroke-width="0.22">*</text>
<line x1="328.5" y1="439.7" x2="328.5" y2="442.2" stroke="#000" stroke-width="1.15" stroke-linecap="butt"/>
<text x="329.90000000000003" y="448.7" font-size="7.0" text-anchor="end" fill="#161616" transform="rotate(-56 329.90000000000003 448.7)" stroke="#161616" stroke-width="0.22">CTRL</text>
<line x1="372.5" y1="439.7" x2="372.5" y2="442.2" stroke="#000" stroke-width="1.15" stroke-linecap="butt"/>
<text x="374.20000000000005" y="448.7" font-size="7.0" text-anchor="end" fill="#161616" transform="rotate(-56 374.20000000000005 448.7)" stroke="#161616" stroke-width="0.22">Anti-CD3</text>
<text x="10.7" y="488.3" font-size="12" text-anchor="start" font-weight="bold" fill="#000" stroke="#000" stroke-width="0.1">G</text>
<line x1="35.5" y1="498" x2="35.5" y2="579.3" stroke="#000" stroke-width="1.15" stroke-linecap="butt"/>
<line x1="34.7" y1="578.5" x2="153.7" y2="578.5" stroke="#000" stroke-width="1.15" stroke-linecap="butt"/>
<line x1="32.2" y1="578.5" x2="35.2" y2="578.5" stroke="#000" stroke-width="1.15" stroke-linecap="butt"/>
<text x="30.700000000000003" y="581.3" font-size="7.2" text-anchor="end" fill="#161616" stroke="#161616" stroke-width="0.22">0</text>
<line x1="32.2" y1="559.5" x2="35.2" y2="559.5" stroke="#000" stroke-width="1.15" stroke-linecap="butt"/>
<text x="30.700000000000003" y="562.0" font-size="7.2" text-anchor="end" fill="#161616" stroke="#161616" stroke-width="0.22">25</text>
<line x1="32.2" y1="540.5" x2="35.2" y2="540.5" stroke="#000" stroke-width="1.15" stroke-linecap="butt"/>
<text x="30.700000000000003" y="542.6999999999999" font-size="7.2" text-anchor="end" fill="#161616" stroke="#161616" stroke-width="0.22">50</text>
<line x1="32.2" y1="520.5" x2="35.2" y2="520.5" stroke="#000" stroke-width="1.15" stroke-linecap="butt"/>
<text x="30.700000000000003" y="523.4" font-size="7.2" text-anchor="end" fill="#161616" stroke="#161616" stroke-width="0.22">75</text>
<line x1="32.2" y1="501.5" x2="35.2" y2="501.5" stroke="#000" stroke-width="1.15" stroke-linecap="butt"/>
<text x="30.700000000000003" y="504.09999999999997" font-size="7.2" text-anchor="end" fill="#161616" stroke="#161616" stroke-width="0.22">100</text>
<line x1="35.5" y1="578.8" x2="35.5" y2="581.3" stroke="#000" stroke-width="1.15" stroke-linecap="butt"/>
<text x="35.2" y="591.3" font-size="7.2" text-anchor="middle" fill="#161616" stroke="#161616" stroke-width="0.22">10<tspan font-size="4.6" dy="-3">-4</tspan></text>
<line x1="58.5" y1="578.8" x2="58.5" y2="581.3" stroke="#000" stroke-width="1.15" stroke-linecap="butt"/>
<text x="58.5" y="591.3" font-size="7.2" text-anchor="middle" fill="#161616" stroke="#161616" stroke-width="0.22">10<tspan font-size="4.6" dy="-3">-3</tspan></text>
<line x1="81.5" y1="578.8" x2="81.5" y2="581.3" stroke="#000" stroke-width="1.15" stroke-linecap="butt"/>
<text x="81.80000000000001" y="591.3" font-size="7.2" text-anchor="middle" fill="#161616" stroke="#161616" stroke-width="0.22">10<tspan font-size="4.6" dy="-3">-2</tspan></text>
<line x1="105.5" y1="578.8" x2="105.5" y2="581.3" stroke="#000" stroke-width="1.15" stroke-linecap="butt"/>
<text x="105.10000000000001" y="591.3" font-size="7.2" text-anchor="middle" fill="#161616" stroke="#161616" stroke-width="0.22">10<tspan font-size="4.6" dy="-3">-1</tspan></text>
<line x1="128.5" y1="578.8" x2="128.5" y2="581.3" stroke="#000" stroke-width="1.15" stroke-linecap="butt"/>
<text x="128.4" y="591.3" font-size="7.2" text-anchor="middle" fill="#161616" stroke="#161616" stroke-width="0.22">10<tspan font-size="4.6" dy="-3">0</tspan></text>
<line x1="151.5" y1="578.8" x2="151.5" y2="581.3" stroke="#000" stroke-width="1.15" stroke-linecap="butt"/>
<text x="151.7" y="591.3" font-size="7.2" text-anchor="middle" fill="#161616" stroke="#161616" stroke-width="0.22">10<tspan font-size="4.6" dy="-3">1</tspan></text>
<text x="95.2" y="602.2" font-size="8.3" text-anchor="middle" fill="#161616" textLength="74.9" lengthAdjust="spacingAndGlyphs" stroke="#161616" stroke-width="0.22">[Dexamethasone &#956;M]</text>
<text x="18.400000000000002" y="539" font-size="8.6" text-anchor="middle" fill="#161616" transform="rotate(-90 18.400000000000002 539)" textLength="48.7" lengthAdjust="spacingAndGlyphs" stroke="#161616" stroke-width="0.22">% cell viability</text>
<text x="95.2" y="493.9" font-size="8" text-anchor="middle" font-weight="bold" fill="#161616" textLength="54.2" lengthAdjust="spacingAndGlyphs" stroke="#161616" stroke-width="0.22">P12 ICHIKAWA</text>
<polyline points="35.20,510.09 58.50,507.78 81.80,521.67 105.10,539.43 128.40,546.76 151.70,547.15" fill="none" stroke="#2f4f58" stroke-width="1.45" stroke-dasharray="1.4,1.0" stroke-linejoin="round" stroke-linecap="butt"/>
<polyline points="35.20,514.72 58.50,517.04 81.80,531.71 105.10,555.64 128.40,561.04 151.70,561.43" fill="none" stroke="#e0a42a" stroke-width="1.8" stroke-dasharray="3,1.5" stroke-linejoin="round" stroke-linecap="butt"/>
<rect x="34.00" y="513.52" width="2.4" height="2.4" fill="#e0a42a"/>
<line x1="58.5" y1="514.7239999999999" x2="58.5" y2="519.356" stroke="#111" stroke-width="0.9" stroke-linecap="butt"/>
<line x1="57.2" y1="514.5" x2="59.8" y2="514.5" stroke="#111" stroke-width="0.9" stroke-linecap="butt"/>
<line x1="57.2" y1="519.5" x2="59.8" y2="519.5" stroke="#111" stroke-width="0.9" stroke-linecap="butt"/>
<rect x="57.30" y="515.84" width="2.4" height="2.4" fill="#e0a42a"/>
<line x1="81.5" y1="524.76" x2="81.5" y2="538.656" stroke="#111" stroke-width="0.9" stroke-linecap="butt"/>
<line x1="80.50000000000001" y1="524.5" x2="83.10000000000001" y2="524.5" stroke="#111" stroke-width="0.9" stroke-linecap="butt"/>
<line x1="80.50000000000001" y1="538.5" x2="83.10000000000001" y2="538.5" stroke="#111" stroke-width="0.9" stroke-linecap="butt"/>
<rect x="80.60" y="530.51" width="2.4" height="2.4" fill="#e0a42a"/>
<line x1="105.5" y1="553.324" x2="105.5" y2="557.9559999999999" stroke="#111" stroke-width="0.9" stroke-linecap="butt"/>
<line x1="103.80000000000001" y1="553.5" x2="106.4" y2="553.5" stroke="#111" stroke-width="0.9" stroke-linecap="butt"/>
<line x1="103.80000000000001" y1="557.5" x2="106.4" y2="557.5" stroke="#111" stroke-width="0.9" stroke-linecap="butt"/>
<rect x="103.90" y="554.44" width="2.4" height="2.4" fill="#e0a42a"/>
<line x1="128.5" y1="557.5699999999999" x2="128.5" y2="564.5179999999999" stroke="#111" stroke-width="0.9" stroke-linecap="butt"/>
<line x1="127.10000000000001" y1="557.5" x2="129.70000000000002" y2="557.5" stroke="#111" stroke-width="0.9" stroke-linecap="butt"/>
<line x1="127.10000000000001" y1="564.5" x2="129.70000000000002" y2="564.5" stroke="#111" stroke-width="0.9" stroke-linecap="butt"/>
<rect x="127.20" y="559.84" width="2.4" height="2.4" fill="#e0a42a"/>
<line x1="151.5" y1="557.5699999999999" x2="151.5" y2="565.29" stroke="#111" stroke-width="0.9" stroke-linecap="butt"/>
<line x1="150.39999999999998" y1="557.5" x2="153.0" y2="557.5" stroke="#111" stroke-width="0.9" stroke-linecap="butt"/>
<line x1="150.39999999999998" y1="565.5" x2="153.0" y2="565.5" stroke="#111" stroke-width="0.9" stroke-linecap="butt"/>
<rect x="150.50" y="560.23" width="2.4" height="2.4" fill="#e0a42a"/>
<rect x="34.10" y="508.99" width="2.2" height="2.2" fill="#2f4f58"/>
<rect x="57.40" y="506.68" width="2.2" height="2.2" fill="#2f4f58"/>
<line x1="81.5" y1="513.952" x2="81.5" y2="529.3919999999999" stroke="#111" stroke-width="0.9" stroke-linecap="butt"/>
<line x1="80.50000000000001" y1="513.5" x2="83.10000000000001" y2="513.5" stroke="#111" stroke-width="0.9" stroke-linecap="butt"/>
<line x1="80.50000000000001" y1="529.5" x2="83.10000000000001" y2="529.5" stroke="#111" stroke-width="0.9" stroke-linecap="butt"/>
<rect x="80.70" y="520.57" width="2.2" height="2.2" fill="#2f4f58"/>
<line x1="105.5" y1="537.8839999999999" x2="105.5" y2="540.972" stroke="#111" stroke-width="0.9" stroke-linecap="butt"/>
<line x1="103.80000000000001" y1="537.5" x2="106.4" y2="537.5" stroke="#111" stroke-width="0.9" stroke-linecap="butt"/>
<line x1="103.80000000000001" y1="540.5" x2="106.4" y2="540.5" stroke="#111" stroke-width="0.9" stroke-linecap="butt"/>
<rect x="104.00" y="538.33" width="2.2" height="2.2" fill="#2f4f58"/>
<rect x="127.30" y="545.66" width="2.2" height="2.2" fill="#2f4f58"/>
<rect x="150.60" y="546.05" width="2.2" height="2.2" fill="#2f4f58"/>
<line x1="123.5" y1="506.6" x2="132.5" y2="506.6" stroke="#e0a42a" stroke-width="1.6" stroke-dasharray="3,1.5" stroke-linecap="butt"/>
<rect x="126.8" y="505.40000000000003" width="2.4" height="2.4" fill="#e0a42a"/>
<text x="135.0" y="509.0" font-size="6.7" text-anchor="start" fill="#161616" stroke="#161616" stroke-width="0.22">CTRL</text>
<line x1="123.5" y1="515.5" x2="132.5" y2="515.5" stroke="#2f4f58" stroke-width="1.3" stroke-dasharray="1.3,1.1" stroke-linecap="butt"/>
<rect x="126.9" y="514.2" width="2.2" height="2.2" fill="#2f4f58"/>
<text x="135.0" y="517.7" font-size="6.7" text-anchor="start" fill="#161616" stroke="#161616" stroke-width="0.22">+ IL-4</text>
<line x1="195.5" y1="498" x2="195.5" y2="579.3" stroke="#000" stroke-width="1.15" stroke-linecap="butt"/>
<line x1="195.2" y1="578.5" x2="314.2" y2="578.5" stroke="#000" stroke-width="1.15" stroke-linecap="butt"/>
<line x1="192.7" y1="578.5" x2="195.7" y2="578.5" stroke="#000" stroke-width="1.15" stroke-linecap="butt"/>
<text x="191.2" y="581.3" font-size="7.2" text-anchor="end" fill="#161616" stroke="#161616" stroke-width="0.22">0</text>
<line x1="192.7" y1="559.5" x2="195.7" y2="559.5" stroke="#000" stroke-width="1.15" stroke-linecap="butt"/>
<text x="191.2" y="562.0" font-size="7.2" text-anchor="end" fill="#161616" stroke="#161616" stroke-width="0.22">25</text>
<line x1="192.7" y1="540.5" x2="195.7" y2="540.5" stroke="#000" stroke-width="1.15" stroke-linecap="butt"/>
<text x="191.2" y="542.6999999999999" font-size="7.2" text-anchor="end" fill="#161616" stroke="#161616" stroke-width="0.22">50</text>
<line x1="192.7" y1="520.5" x2="195.7" y2="520.5" stroke="#000" stroke-width="1.15" stroke-linecap="butt"/>
<text x="191.2" y="523.4" font-size="7.2" text-anchor="end" fill="#161616" stroke="#161616" stroke-width="0.22">75</text>
<line x1="192.7" y1="501.5" x2="195.7" y2="501.5" stroke="#000" stroke-width="1.15" stroke-linecap="butt"/>
<text x="191.2" y="504.09999999999997" font-size="7.2" text-anchor="end" fill="#161616" stroke="#161616" stroke-width="0.22">100</text>
<line x1="195.5" y1="578.8" x2="195.5" y2="581.3" stroke="#000" stroke-width="1.15" stroke-linecap="butt"/>
<text x="195.7" y="591.3" font-size="7.2" text-anchor="middle" fill="#161616" stroke="#161616" stroke-width="0.22">10<tspan font-size="4.6" dy="-3">-4</tspan></text>
<line x1="219.5" y1="578.8" x2="219.5" y2="581.3" stroke="#000" stroke-width="1.15" stroke-linecap="butt"/>
<text x="219.0" y="591.3" font-size="7.2" text-anchor="middle" fill="#161616" stroke="#161616" stroke-width="0.22">10<tspan font-size="4.6" dy="-3">-3</tspan></text>
<line x1="242.5" y1="578.8" x2="242.5" y2="581.3" stroke="#000" stroke-width="1.15" stroke-linecap="butt"/>
<text x="242.29999999999998" y="591.3" font-size="7.2" text-anchor="middle" fill="#161616" stroke="#161616" stroke-width="0.22">10<tspan font-size="4.6" dy="-3">-2</tspan></text>
<line x1="265.5" y1="578.8" x2="265.5" y2="581.3" stroke="#000" stroke-width="1.15" stroke-linecap="butt"/>
<text x="265.6" y="591.3" font-size="7.2" text-anchor="middle" fill="#161616" stroke="#161616" stroke-width="0.22">10<tspan font-size="4.6" dy="-3">-1</tspan></text>
<line x1="288.5" y1="578.8" x2="288.5" y2="581.3" stroke="#000" stroke-width="1.15" stroke-linecap="butt"/>
<text x="288.9" y="591.3" font-size="7.2" text-anchor="middle" fill="#161616" stroke="#161616" stroke-width="0.22">10<tspan font-size="4.6" dy="-3">0</tspan></text>
<line x1="312.5" y1="578.8" x2="312.5" y2="581.3" stroke="#000" stroke-width="1.15" stroke-linecap="butt"/>
<text x="312.2" y="591.3" font-size="7.2" text-anchor="middle" fill="#161616" stroke="#161616" stroke-width="0.22">10<tspan font-size="4.6" dy="-3">1</tspan></text>
<text x="255.2" y="602.2" font-size="8.3" text-anchor="middle" fill="#161616" textLength="74.9" lengthAdjust="spacingAndGlyphs" stroke="#161616" stroke-width="0.22">[Dexamethasone &#956;M]</text>
<text x="178.89999999999998" y="539" font-size="8.6" text-anchor="middle" fill="#161616" transform="rotate(-90 178.89999999999998 539)" textLength="48.7" lengthAdjust="spacingAndGlyphs" stroke="#161616" stroke-width="0.22">% cell viability</text>
<text x="255.2" y="495.9" font-size="8" text-anchor="middle" font-weight="bold" fill="#161616" textLength="32.2" lengthAdjust="spacingAndGlyphs" stroke="#161616" stroke-width="0.22">KOPT-K1</text>
<polyline points="195.70,515.50 219.00,512.41 242.30,527.85 265.60,551.01 288.90,558.73 312.20,558.73" fill="none" stroke="#2f4f58" stroke-width="1.45" stroke-dasharray="1.4,1.0" stroke-linejoin="round" stroke-linecap="butt"/>
<polyline points="195.70,515.50 219.00,519.36 242.30,534.80 265.60,559.50 288.90,566.45 312.20,567.99" fill="none" stroke="#e0a42a" stroke-width="1.8" stroke-dasharray="3,1.5" stroke-linejoin="round" stroke-linecap="butt"/>
<rect x="194.50" y="514.30" width="2.4" height="2.4" fill="#e0a42a"/>
<line x1="219.5" y1="515.496" x2="219.5" y2="523.2159999999999" stroke="#111" stroke-width="0.9" stroke-linecap="butt"/>
<line x1="217.7" y1="515.5" x2="220.3" y2="515.5" stroke="#111" stroke-width="0.9" stroke-linecap="butt"/>
<line x1="217.7" y1="523.5" x2="220.3" y2="523.5" stroke="#111" stroke-width="0.9" stroke-linecap="butt"/>
<rect x="217.80" y="518.16" width="2.4" height="2.4" fill="#e0a42a"/>
<line x1="242.5" y1="530.9359999999999" x2="242.5" y2="538.656" stroke="#111" stroke-width="0.9" stroke-linecap="butt"/>
<line x1="240.99999999999997" y1="530.5" x2="243.6" y2="530.5" stroke="#111" stroke-width="0.9" stroke-linecap="butt"/>
<line x1="240.99999999999997" y1="538.5" x2="243.6" y2="538.5" stroke="#111" stroke-width="0.9" stroke-linecap="butt"/>
<rect x="241.10" y="533.60" width="2.4" height="2.4" fill="#e0a42a"/>
<line x1="265.5" y1="557.184" x2="265.5" y2="561.8159999999999" stroke="#111" stroke-width="0.9" stroke-linecap="butt"/>
<line x1="264.3" y1="557.5" x2="266.90000000000003" y2="557.5" stroke="#111" stroke-width="0.9" stroke-linecap="butt"/>
<line x1="264.3" y1="561.5" x2="266.90000000000003" y2="561.5" stroke="#111" stroke-width="0.9" stroke-linecap="butt"/>
<rect x="264.40" y="558.30" width="2.4" height="2.4" fill="#e0a42a"/>
<line x1="288.5" y1="564.132" x2="288.5" y2="568.764" stroke="#111" stroke-width="0.9" stroke-linecap="butt"/>
<line x1="287.59999999999997" y1="564.5" x2="290.2" y2="564.5" stroke="#111" stroke-width="0.9" stroke-linecap="butt"/>
<line x1="287.59999999999997" y1="568.5" x2="290.2" y2="568.5" stroke="#111" stroke-width="0.9" stroke-linecap="butt"/>
<rect x="287.70" y="565.25" width="2.4" height="2.4" fill="#e0a42a"/>
<line x1="312.5" y1="565.6759999999999" x2="312.5" y2="570.308" stroke="#111" stroke-width="0.9" stroke-linecap="butt"/>
<line x1="310.9" y1="565.5" x2="313.5" y2="565.5" stroke="#111" stroke-width="0.9" stroke-linecap="butt"/>
<line x1="310.9" y1="570.5" x2="313.5" y2="570.5" stroke="#111" stroke-width="0.9" stroke-linecap="butt"/>
<rect x="311.00" y="566.79" width="2.4" height="2.4" fill="#e0a42a"/>
<line x1="195.5" y1="512.4079999999999" x2="195.5" y2="518.584" stroke="#111" stroke-width="0.9" stroke-linecap="butt"/>
<line x1="194.39999999999998" y1="512.5" x2="197.0" y2="512.5" stroke="#111" stroke-width="0.9" stroke-linecap="butt"/>
<line x1="194.39999999999998" y1="518.5" x2="197.0" y2="518.5" stroke="#111" stroke-width="0.9" stroke-linecap="butt"/>
<rect x="194.60" y="514.40" width="2.2" height="2.2" fill="#2f4f58"/>
<line x1="219.5" y1="510.092" x2="219.5" y2="514.7239999999999" stroke="#111" stroke-width="0.9" stroke-linecap="butt"/>
<line x1="217.7" y1="510.5" x2="220.3" y2="510.5" stroke="#111" stroke-width="0.9" stroke-linecap="butt"/>
<line x1="217.7" y1="514.5" x2="220.3" y2="514.5" stroke="#111" stroke-width="0.9" stroke-linecap="butt"/>
<rect x="217.90" y="511.31" width="2.2" height="2.2" fill="#2f4f58"/>
<rect x="241.20" y="526.75" width="2.2" height="2.2" fill="#2f4f58"/>
<rect x="264.50" y="549.91" width="2.2" height="2.2" fill="#2f4f58"/>
<line x1="288.5" y1="557.184" x2="288.5" y2="560.2719999999999" stroke="#111" stroke-width="0.9" stroke-linecap="butt"/>
<line x1="287.59999999999997" y1="557.5" x2="290.2" y2="557.5" stroke="#111" stroke-width="0.9" stroke-linecap="butt"/>
<line x1="287.59999999999997" y1="560.5" x2="290.2" y2="560.5" stroke="#111" stroke-width="0.9" stroke-linecap="butt"/>
<rect x="287.80" y="557.63" width="2.2" height="2.2" fill="#2f4f58"/>
<line x1="312.5" y1="557.184" x2="312.5" y2="560.2719999999999" stroke="#111" stroke-width="0.9" stroke-linecap="butt"/>
<line x1="310.9" y1="557.5" x2="313.5" y2="557.5" stroke="#111" stroke-width="0.9" stroke-linecap="butt"/>
<line x1="310.9" y1="560.5" x2="313.5" y2="560.5" stroke="#111" stroke-width="0.9" stroke-linecap="butt"/>
<rect x="311.10" y="557.63" width="2.2" height="2.2" fill="#2f4f58"/>
<line x1="284" y1="505.70000000000005" x2="293" y2="505.70000000000005" stroke="#e0a42a" stroke-width="1.6" stroke-dasharray="3,1.5" stroke-linecap="butt"/>
<rect x="287.3" y="504.50000000000006" width="2.4" height="2.4" fill="#e0a42a"/>
<text x="295.5" y="508.1" font-size="6.7" text-anchor="start" fill="#161616" stroke="#161616" stroke-width="0.22">CTRL</text>
<line x1="284" y1="514.5" x2="293" y2="514.5" stroke="#2f4f58" stroke-width="1.3" stroke-dasharray="1.3,1.1" stroke-linecap="butt"/>
<rect x="287.4" y="513.3000000000001" width="2.2" height="2.2" fill="#2f4f58"/>
<text x="295.5" y="516.8000000000001" font-size="6.7" text-anchor="start" fill="#161616" stroke="#161616" stroke-width="0.22">+ IL-4</text>
<text x="332.8" y="488.3" font-size="12" text-anchor="start" font-weight="bold" fill="#000" stroke="#000" stroke-width="0.1">H</text>
<line x1="356.5" y1="503" x2="356.5" y2="579.7" stroke="#000" stroke-width="1.15" stroke-linecap="butt"/>
<line x1="355.8" y1="579.5" x2="471" y2="579.5" stroke="#000" stroke-width="1.15" stroke-linecap="butt"/>
<line x1="353.3" y1="579.5" x2="356.3" y2="579.5" stroke="#000" stroke-width="1.15" stroke-linecap="butt"/>
<text x="352" y="581.7" font-size="7.2" text-anchor="end" fill="#161616" stroke="#161616" stroke-width="0.22">0</text>
<line x1="353.3" y1="561.5" x2="356.3" y2="561.5" stroke="#000" stroke-width="1.15" stroke-linecap="butt"/>
<text x="352" y="563.6" font-size="7.2" text-anchor="end" fill="#161616" stroke="#161616" stroke-width="0.22">25</text>
<line x1="353.3" y1="543.5" x2="356.3" y2="543.5" stroke="#000" stroke-width="1.15" stroke-linecap="butt"/>
<text x="352" y="545.5" font-size="7.2" text-anchor="end" fill="#161616" stroke="#161616" stroke-width="0.22">50</text>
<line x1="353.3" y1="524.5" x2="356.3" y2="524.5" stroke="#000" stroke-width="1.15" stroke-linecap="butt"/>
<text x="352" y="527.4000000000001" font-size="7.2" text-anchor="end" fill="#161616" stroke="#161616" stroke-width="0.22">75</text>
<line x1="353.3" y1="506.5" x2="356.3" y2="506.5" stroke="#000" stroke-width="1.15" stroke-linecap="butt"/>
<text x="352" y="509.30000000000007" font-size="7.2" text-anchor="end" fill="#161616" stroke="#161616" stroke-width="0.22">100</text>
<text x="339.4" y="541.1" font-size="8.6" text-anchor="middle" fill="#161616" transform="rotate(-90 339.4 541.1)" textLength="49.2" lengthAdjust="spacingAndGlyphs" stroke="#161616" stroke-width="0.22">% cell viability</text>
<rect x="360.05" y="510.4200000000001" width="7.5" height="68.77999999999997" fill="#b8103a"/>
<line x1="363.5" y1="509.33400000000006" x2="363.5" y2="510.4200000000001" stroke="#111" stroke-width="1" stroke-linecap="butt"/>
<line x1="362.05" y1="509.5" x2="365.55" y2="509.5" stroke="#111" stroke-width="1" stroke-linecap="butt"/>
<line x1="362.05" y1="510.5" x2="365.55" y2="510.5" stroke="#111" stroke-width="1" stroke-linecap="butt"/>
<rect x="370.65" y="524.9000000000001" width="7.5" height="54.299999999999955" fill="#2e4b88"/>
<line x1="374.5" y1="523.452" x2="374.5" y2="524.9000000000001" stroke="#111" stroke-width="1" stroke-linecap="butt"/>
<line x1="372.65" y1="523.5" x2="376.15" y2="523.5" stroke="#111" stroke-width="1" stroke-linecap="butt"/>
<line x1="372.65" y1="524.5" x2="376.15" y2="524.5" stroke="#111" stroke-width="1" stroke-linecap="butt"/>
<rect x="381.25" y="531.416" width="7.5" height="47.78399999999999" fill="#68ad44"/>
<line x1="385.5" y1="528.5200000000001" x2="385.5" y2="534.312" stroke="#111" stroke-width="1" stroke-linecap="butt"/>
<line x1="383.25" y1="528.5" x2="386.75" y2="528.5" stroke="#111" stroke-width="1" stroke-linecap="butt"/>
<line x1="383.25" y1="534.5" x2="386.75" y2="534.5" stroke="#111" stroke-width="1" stroke-linecap="butt"/>
<rect x="399.55" y="511.14400000000006" width="7.5" height="68.05599999999998" fill="#b8103a"/>
<line x1="403.5" y1="508.97200000000004" x2="403.5" y2="513.316" stroke="#111" stroke-width="1" stroke-linecap="butt"/>
<line x1="401.55" y1="508.5" x2="405.05" y2="508.5" stroke="#111" stroke-width="1" stroke-linecap="butt"/>
<line x1="401.55" y1="513.5" x2="405.05" y2="513.5" stroke="#111" stroke-width="1" stroke-linecap="butt"/>
<rect x="410.05" y="540.104" width="7.5" height="39.096000000000004" fill="#2e4b88"/>
<line x1="413.5" y1="538.2940000000001" x2="413.5" y2="540.104" stroke="#111" stroke-width="1" stroke-linecap="butt"/>
<line x1="412.05" y1="538.5" x2="415.55" y2="538.5" stroke="#111" stroke-width="1" stroke-linecap="butt"/>
<line x1="412.05" y1="540.5" x2="415.55" y2="540.5" stroke="#111" stroke-width="1" stroke-linecap="butt"/>
<rect x="420.45" y="548.0680000000001" width="7.5" height="31.131999999999948" fill="#68ad44"/>
<line x1="424.5" y1="546.9820000000001" x2="424.5" y2="548.0680000000001" stroke="#111" stroke-width="1" stroke-linecap="butt"/>
<line x1="422.45" y1="546.5" x2="425.95" y2="546.5" stroke="#111" stroke-width="1" stroke-linecap="butt"/>
<line x1="422.45" y1="548.5" x2="425.95" y2="548.5" stroke="#111" stroke-width="1" stroke-linecap="butt"/>
<rect x="438.05" y="511.86800000000005" width="7.5" height="67.332" fill="#b8103a"/>
<line x1="441.5" y1="510.78200000000004" x2="441.5" y2="511.86800000000005" stroke="#111" stroke-width="1" stroke-linecap="butt"/>
<line x1="440.05" y1="510.5" x2="443.55" y2="510.5" stroke="#111" stroke-width="1" stroke-linecap="butt"/>
<line x1="440.05" y1="511.5" x2="443.55" y2="511.5" stroke="#111" stroke-width="1" stroke-linecap="butt"/>
<rect x="448.75" y="542.2760000000001" width="7.5" height="36.92399999999998" fill="#2e4b88"/>
<line x1="452.5" y1="537.932" x2="452.5" y2="546.62" stroke="#111" stroke-width="1" stroke-linecap="butt"/>
<line x1="450.75" y1="537.5" x2="454.25" y2="537.5" stroke="#111" stroke-width="1" stroke-linecap="butt"/>
<line x1="450.75" y1="546.5" x2="454.25" y2="546.5" stroke="#111" stroke-width="1" stroke-linecap="butt"/>
<rect x="459.45" y="548.0680000000001" width="7.5" height="31.131999999999948" fill="#68ad44"/>
<line x1="463.5" y1="545.8960000000001" x2="463.5" y2="550.24" stroke="#111" stroke-width="1" stroke-linecap="butt"/>
<line x1="461.45" y1="545.5" x2="464.95" y2="545.5" stroke="#111" stroke-width="1" stroke-linecap="butt"/>
<line x1="461.45" y1="550.5" x2="464.95" y2="550.5" stroke="#111" stroke-width="1" stroke-linecap="butt"/>
<polyline points="374.30,515.60 374.30,513.80 385.00,513.80 385.00,515.60" fill="none" stroke="#111" stroke-width="1.3" stroke-linejoin="round" stroke-linecap="butt"/>
<text x="379.6" y="514" font-size="8" text-anchor="middle" fill="#161616" stroke="#161616" stroke-width="0.22">*</text>
<polyline points="413.00,529.80 413.00,528.00 424.50,528.00 424.50,529.80" fill="none" stroke="#111" stroke-width="1.3" stroke-linejoin="round" stroke-linecap="butt"/>
<text x="418.8" y="528.3" font-size="8" text-anchor="middle" fill="#161616" stroke="#161616" stroke-width="0.22">*</text>
<text x="374.5" y="590.5" font-size="7.7" text-anchor="middle" fill="#161616" stroke="#161616" stroke-width="0.22">ALL-SIL</text>
<text x="413" y="590.5" font-size="7.7" text-anchor="middle" fill="#161616" stroke="#161616" stroke-width="0.22">TALL-1</text>
<text x="453" y="590.5" font-size="7.7" text-anchor="middle" fill="#161616" stroke="#161616" stroke-width="0.22">CCRF-CEM</text>
<rect x="450.8" y="505.5" width="8" height="3" fill="#b8103a"/>
<text x="462.2" y="509.4" font-size="6.5" text-anchor="start" fill="#161616" stroke="#161616" stroke-width="0.22">- Dex + Anti IL-4</text>
<rect x="450.8" y="511.6" width="8" height="3" fill="#2e4b88"/>
<text x="462.2" y="515.5" font-size="6.5" text-anchor="start" fill="#161616" stroke="#161616" stroke-width="0.22">+ Dex - Anti IL-4</text>
<rect x="450.8" y="517.7" width="8" height="3" fill="#68ad44"/>
<text x="462.2" y="521.6" font-size="6.5" text-anchor="start" fill="#161616" stroke="#161616" stroke-width="0.22">+ Dex + Anti IL-4</text>
<rect x="0.5" y="0.5" width="519" height="610" fill="none" stroke="#000" stroke-width="1"/>
</svg>
</body></html>
